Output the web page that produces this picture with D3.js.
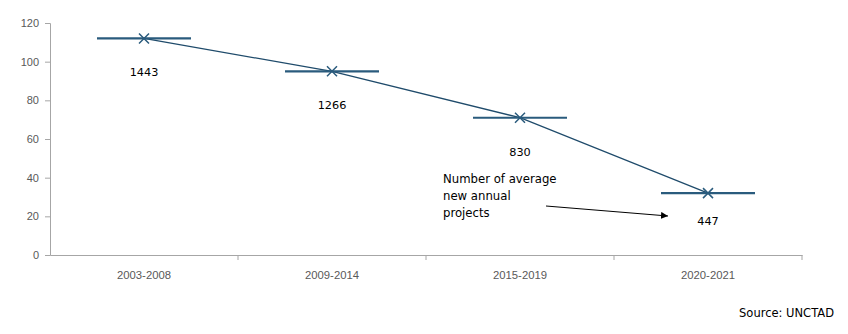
<!DOCTYPE html>
<html>
<head>
<meta charset="utf-8">
<script src="https://cdn.jsdelivr.net/npm/d3@7"></script>
<style>
  body { margin: 0; background: #fff; }
  svg { display: block; }
</style>
</head>
<body>
<figure id="chart" style="margin:0"></figure>
<script>
const periods = ["2003-2008", "2009-2014", "2015-2019", "2020-2021"];
const indexValues = [112, 95, 71, 32];
const projectLabels = ["1443", "1266", "830", "447"];
const yTicks = [0, 20, 40, 60, 80, 100, 120];
const noteLines = ["Number of average", "new annual", "projects"];

const width = 848, height = 334;
const margin = { top: 23, right: 46, bottom: 79, left: 50 };

const svg = d3.select("#chart")
  .append("svg")
  .attr("width", width)
  .attr("height", height)
  .style("font-family", "'DejaVu Sans', Verdana, sans-serif");

const x = d3.scaleBand()
  .domain(periods)
  .range([margin.left, width - margin.right]);

const y = d3.scaleLinear()
  .domain([0, 120])
  .range([height - margin.bottom, margin.top]);

const axisColor = "#a6a6a6";
const textColor = "#595959";

// y axis
const yAxis = svg.append("g")
  .attr("transform", "translate(" + margin.left + ",0)")
  .call(d3.axisLeft(y).tickValues(yTicks).tickSize(5).tickPadding(6));
yAxis.select(".domain").attr("stroke", axisColor);
yAxis.selectAll(".tick line").attr("stroke", axisColor);
yAxis.selectAll("text").attr("fill", textColor).style("font-size", "11px");

// x axis, ticks between categories
const xAxis = svg.append("g")
  .attr("transform", "translate(0," + y(0) + ")")
  .call(d3.axisBottom(x).tickSize(0).tickPadding(16));
xAxis.select(".domain").attr("stroke", axisColor);
xAxis.selectAll("text").attr("fill", textColor).style("font-size", "11.3px");
xAxis.selectAll(".sep")
  .data(periods.slice(1).concat(["end"]))
  .enter()
  .append("line")
  .attr("x1", (d, i) => x.range()[0] + x.step() * (i + 1))
  .attr("x2", (d, i) => x.range()[0] + x.step() * (i + 1))
  .attr("y1", 0)
  .attr("y2", 5)
  .attr("stroke", axisColor);

const cx = d => x(d) + x.bandwidth() / 2;
const markColor = "#2a5b7d";

// connecting line
svg.append("path")
  .datum(indexValues)
  .attr("fill", "none")
  .attr("stroke", "#1f4b6b")
  .attr("stroke-width", 1.3)
  .attr("d", d3.line()
    .x((d, i) => cx(periods[i]))
    .y(d => y(d)));

// horizontal bars
svg.append("g").selectAll("line")
  .data(indexValues)
  .enter()
  .append("line")
  .attr("x1", (d, i) => x(periods[i]) + x.bandwidth() * 0.25)
  .attr("x2", (d, i) => x(periods[i]) + x.bandwidth() * 0.75)
  .attr("y1", d => y(d))
  .attr("y2", d => y(d))
  .attr("stroke", markColor)
  .attr("stroke-width", 2.2);

// x markers
const s = 5;
const marks = svg.append("g");
indexValues.forEach((d, i) => {
  const px = cx(periods[i]), py = y(d);
  marks.append("path")
    .attr("d", `M${px - s},${py - s}L${px + s},${py + s}M${px - s},${py + s}L${px + s},${py - s}`)
    .attr("stroke", markColor)
    .attr("stroke-width", 1.5)
    .attr("fill", "none");
});

// project counts
svg.append("g").selectAll("text")
  .data(projectLabels)
  .enter()
  .append("text")
  .attr("x", (d, i) => cx(periods[i]))
  .attr("y", (d, i) => y(indexValues[i]) + (i === 3 ? 32 : 38))
  .attr("text-anchor", "middle")
  .attr("fill", "#000")
  .style("font-size", "11.3px")
  .text(d => d);

// annotation
const note = svg.append("text")
  .attr("x", 443)
  .attr("y", 183)
  .attr("fill", "#000")
  .style("font-size", "11.7px");
noteLines.forEach((t, i) => {
  note.append("tspan").attr("x", 443).attr("dy", i === 0 ? 0 : 17).text(t);
});

svg.append("defs").append("marker")
  .attr("id", "arrow")
  .attr("viewBox", "0 0 10 10")
  .attr("refX", 10)
  .attr("refY", 5)
  .attr("markerWidth", 7)
  .attr("markerHeight", 7)
  .attr("orient", "auto")
  .append("path")
  .attr("d", "M0,0L10,5L0,10z")
  .attr("fill", "#000");

svg.append("line")
  .attr("x1", 546).attr("y1", 206)
  .attr("x2", 668).attr("y2", 216)
  .attr("stroke", "#000")
  .attr("stroke-width", 1)
  .attr("marker-end", "url(#arrow)");

// source
svg.append("text")
  .attr("x", 834)
  .attr("y", 317)
  .attr("text-anchor", "end")
  .attr("fill", "#000")
  .style("font-size", "11.5px")
  .text("Source: UNCTAD");
</script>
</body>
</html>
